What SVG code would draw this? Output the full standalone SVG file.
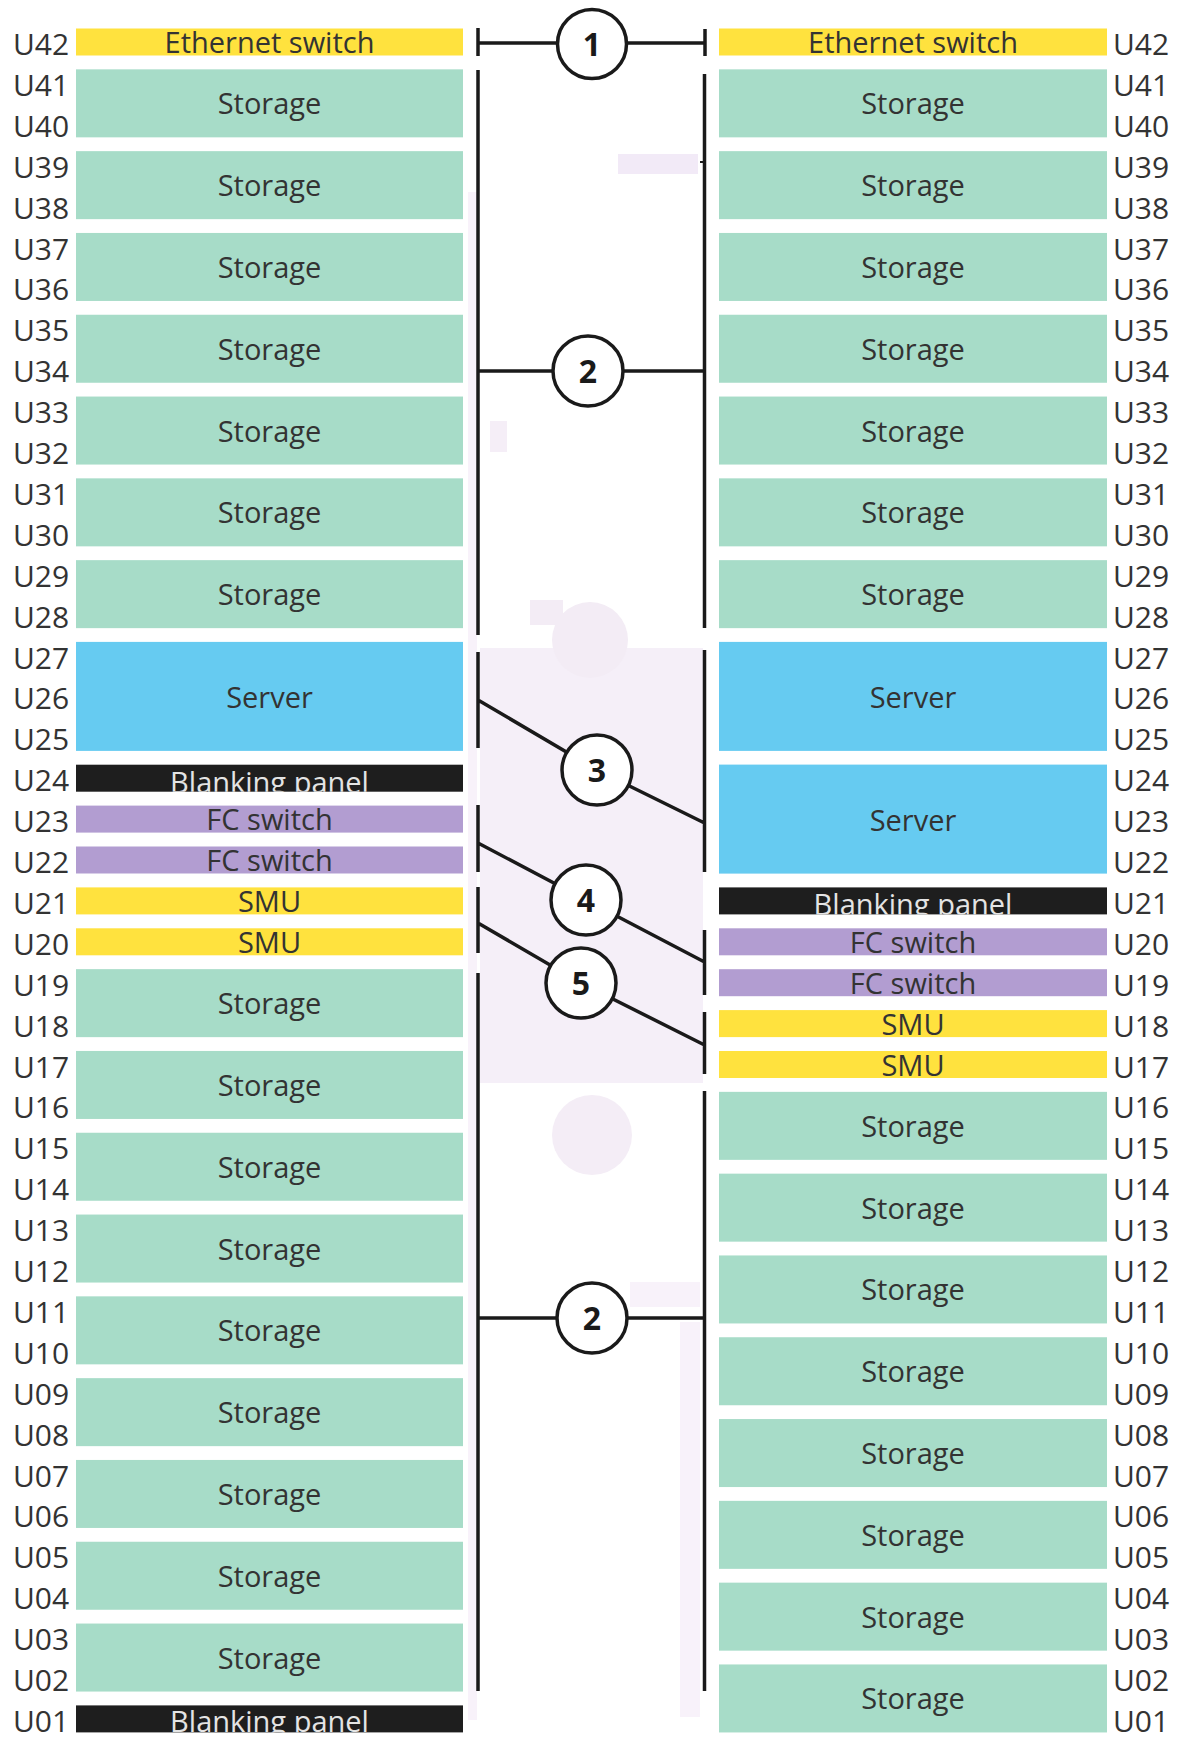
<svg xmlns="http://www.w3.org/2000/svg" width="1183" height="1739" viewBox="0 0 1183 1739">
<style>
.lbl{font-family:"Open Sans","Noto Sans",sans-serif;font-size:30px;fill:#333}
.dev{font-family:"Open Sans","Noto Sans",sans-serif;font-size:29px;fill:#333;text-anchor:middle}
.bt{fill:#e4e4e4}
.eth{fill:#FFE23E}.sto{fill:#A7DCC8}.srv{fill:#66CBF1}.fc{fill:#B29DD1}.blk{fill:#1E1E1E}
.wire{stroke:#1a1a1a;stroke-width:3.5;fill:none}
.badge circle{fill:#fff;stroke:#1a1a1a;stroke-width:3.5}
.badge text{font-family:"Open Sans","Noto Sans",sans-serif;font-weight:700;font-size:32px;text-anchor:middle;fill:#1a1a1a}
.wm{fill:#f5eff8}
</style>
<defs>
<clipPath id="cL24"><rect x="76" y="764.7" width="387" height="27"/></clipPath>
<clipPath id="cL01"><rect x="76" y="1705.4" width="387" height="27"/></clipPath>
<clipPath id="cR21"><rect x="719" y="887.4" width="388" height="27"/></clipPath>
</defs>
<rect width="1183" height="1739" fill="#fff"/>
<g id="watermark">
<rect class="wm" x="480" y="648" width="223" height="435"/>
<circle cx="590" cy="640" r="38" fill="#f3ecf5"/>
<rect x="530" y="600" width="33" height="25" fill="#f3ecf5"/>
<circle cx="592" cy="1135" r="40" fill="#f4edf6"/>
<rect x="468" y="192" width="9" height="1528" fill="#f8f2fa"/>
<rect x="680" y="1322" width="20" height="395" fill="#f8f2fa"/>
<rect x="630" y="1282" width="70" height="25" fill="#f8f2fa"/>
<rect x="490" y="421" width="17" height="31" fill="#f5eef7"/>
<rect x="618" y="154" width="80" height="20" fill="#f2eaf7"/>
</g>
<g id="rack-left">
<g id="L-U42"><rect class="eth" x="76" y="28.5" width="387" height="27"/><text class="dev" x="269.5" y="53">Ethernet switch</text></g>
<g id="L-U41"><rect class="sto" x="76" y="69.35" width="387" height="68"/><text class="dev" x="269.5" y="114.35">Storage</text></g>
<g id="L-U39"><rect class="sto" x="76" y="151.15" width="387" height="68"/><text class="dev" x="269.5" y="196.15">Storage</text></g>
<g id="L-U37"><rect class="sto" x="76" y="232.95" width="387" height="68"/><text class="dev" x="269.5" y="277.95">Storage</text></g>
<g id="L-U35"><rect class="sto" x="76" y="314.75" width="387" height="68"/><text class="dev" x="269.5" y="359.75">Storage</text></g>
<g id="L-U33"><rect class="sto" x="76" y="396.55" width="387" height="68"/><text class="dev" x="269.5" y="441.55">Storage</text></g>
<g id="L-U31"><rect class="sto" x="76" y="478.35" width="387" height="68"/><text class="dev" x="269.5" y="523.35">Storage</text></g>
<g id="L-U29"><rect class="sto" x="76" y="560.15" width="387" height="68"/><text class="dev" x="269.5" y="605.15">Storage</text></g>
<g id="L-U27"><rect class="srv" x="76" y="641.9" width="387" height="109"/><text class="dev" x="269.5" y="708.4">Server</text></g>
<g id="L-U24"><rect class="blk" x="76" y="764.7" width="387" height="27"/><text class="dev bt" x="269.5" y="792.5" clip-path="url(#cL24)">Blanking panel</text></g>
<g id="L-U23"><rect class="fc" x="76" y="805.6" width="387" height="27"/><text class="dev" x="269.5" y="830.1">FC switch</text></g>
<g id="L-U22"><rect class="fc" x="76" y="846.5" width="387" height="27"/><text class="dev" x="269.5" y="871">FC switch</text></g>
<g id="L-U21"><rect class="eth" x="76" y="887.4" width="387" height="27"/><text class="dev" x="269.5" y="911.9">SMU</text></g>
<g id="L-U20"><rect class="eth" x="76" y="928.3" width="387" height="27"/><text class="dev" x="269.5" y="952.8">SMU</text></g>
<g id="L-U19"><rect class="sto" x="76" y="969.15" width="387" height="68"/><text class="dev" x="269.5" y="1014.15">Storage</text></g>
<g id="L-U17"><rect class="sto" x="76" y="1050.95" width="387" height="68"/><text class="dev" x="269.5" y="1095.95">Storage</text></g>
<g id="L-U15"><rect class="sto" x="76" y="1132.75" width="387" height="68"/><text class="dev" x="269.5" y="1177.75">Storage</text></g>
<g id="L-U13"><rect class="sto" x="76" y="1214.55" width="387" height="68"/><text class="dev" x="269.5" y="1259.55">Storage</text></g>
<g id="L-U11"><rect class="sto" x="76" y="1296.35" width="387" height="68"/><text class="dev" x="269.5" y="1341.35">Storage</text></g>
<g id="L-U09"><rect class="sto" x="76" y="1378.15" width="387" height="68"/><text class="dev" x="269.5" y="1423.15">Storage</text></g>
<g id="L-U07"><rect class="sto" x="76" y="1459.95" width="387" height="68"/><text class="dev" x="269.5" y="1504.95">Storage</text></g>
<g id="L-U05"><rect class="sto" x="76" y="1541.75" width="387" height="68"/><text class="dev" x="269.5" y="1586.75">Storage</text></g>
<g id="L-U03"><rect class="sto" x="76" y="1623.55" width="387" height="68"/><text class="dev" x="269.5" y="1668.55">Storage</text></g>
<g id="L-U01"><rect class="blk" x="76" y="1705.4" width="387" height="27"/><text class="dev bt" x="269.5" y="1732" clip-path="url(#cL01)">Blanking panel</text></g>
</g>
<g id="rack-right">
<g id="R-U42"><rect class="eth" x="719" y="28.5" width="388" height="27"/><text class="dev" x="913" y="53">Ethernet switch</text></g>
<g id="R-U41"><rect class="sto" x="719" y="69.35" width="388" height="68"/><text class="dev" x="913" y="114.35">Storage</text></g>
<g id="R-U39"><rect class="sto" x="719" y="151.15" width="388" height="68"/><text class="dev" x="913" y="196.15">Storage</text></g>
<g id="R-U37"><rect class="sto" x="719" y="232.95" width="388" height="68"/><text class="dev" x="913" y="277.95">Storage</text></g>
<g id="R-U35"><rect class="sto" x="719" y="314.75" width="388" height="68"/><text class="dev" x="913" y="359.75">Storage</text></g>
<g id="R-U33"><rect class="sto" x="719" y="396.55" width="388" height="68"/><text class="dev" x="913" y="441.55">Storage</text></g>
<g id="R-U31"><rect class="sto" x="719" y="478.35" width="388" height="68"/><text class="dev" x="913" y="523.35">Storage</text></g>
<g id="R-U29"><rect class="sto" x="719" y="560.15" width="388" height="68"/><text class="dev" x="913" y="605.15">Storage</text></g>
<g id="R-U27"><rect class="srv" x="719" y="641.9" width="388" height="109"/><text class="dev" x="913" y="708.4">Server</text></g>
<g id="R-U24"><rect class="srv" x="719" y="764.6" width="388" height="109"/><text class="dev" x="913" y="831.1">Server</text></g>
<g id="R-U21"><rect class="blk" x="719" y="887.4" width="388" height="27"/><text class="dev bt" x="913" y="914.5" clip-path="url(#cR21)">Blanking panel</text></g>
<g id="R-U20"><rect class="fc" x="719" y="928.3" width="388" height="27"/><text class="dev" x="913" y="952.8">FC switch</text></g>
<g id="R-U19"><rect class="fc" x="719" y="969.2" width="388" height="27"/><text class="dev" x="913" y="993.7">FC switch</text></g>
<g id="R-U18"><rect class="eth" x="719" y="1010.1" width="388" height="27"/><text class="dev" x="913" y="1034.6">SMU</text></g>
<g id="R-U17"><rect class="eth" x="719" y="1051" width="388" height="27"/><text class="dev" x="913" y="1075.5">SMU</text></g>
<g id="R-U16"><rect class="sto" x="719" y="1091.85" width="388" height="68"/><text class="dev" x="913" y="1136.85">Storage</text></g>
<g id="R-U14"><rect class="sto" x="719" y="1173.65" width="388" height="68"/><text class="dev" x="913" y="1218.65">Storage</text></g>
<g id="R-U12"><rect class="sto" x="719" y="1255.45" width="388" height="68"/><text class="dev" x="913" y="1300.45">Storage</text></g>
<g id="R-U10"><rect class="sto" x="719" y="1337.25" width="388" height="68"/><text class="dev" x="913" y="1382.25">Storage</text></g>
<g id="R-U08"><rect class="sto" x="719" y="1419.05" width="388" height="68"/><text class="dev" x="913" y="1464.05">Storage</text></g>
<g id="R-U06"><rect class="sto" x="719" y="1500.85" width="388" height="68"/><text class="dev" x="913" y="1545.85">Storage</text></g>
<g id="R-U04"><rect class="sto" x="719" y="1582.65" width="388" height="68"/><text class="dev" x="913" y="1627.65">Storage</text></g>
<g id="R-U02"><rect class="sto" x="719" y="1664.45" width="388" height="68"/><text class="dev" x="913" y="1709.45">Storage</text></g>
</g>
<g id="labels-left" class="lbl">
<text x="13" y="55">U42</text><text x="13" y="95.9">U41</text><text x="13" y="136.8">U40</text><text x="13" y="177.7">U39</text><text x="13" y="218.6">U38</text><text x="13" y="259.5">U37</text><text x="13" y="300.4">U36</text><text x="13" y="341.3">U35</text><text x="13" y="382.2">U34</text><text x="13" y="423.1">U33</text><text x="13" y="464">U32</text><text x="13" y="504.9">U31</text><text x="13" y="545.8">U30</text><text x="13" y="586.7">U29</text><text x="13" y="627.6">U28</text><text x="13" y="668.5">U27</text><text x="13" y="709.4">U26</text><text x="13" y="750.3">U25</text><text x="13" y="791.2">U24</text><text x="13" y="832.1">U23</text><text x="13" y="873">U22</text><text x="13" y="913.9">U21</text><text x="13" y="954.8">U20</text><text x="13" y="995.7">U19</text><text x="13" y="1036.6">U18</text><text x="13" y="1077.5">U17</text><text x="13" y="1118.4">U16</text><text x="13" y="1159.3">U15</text><text x="13" y="1200.2">U14</text><text x="13" y="1241.1">U13</text><text x="13" y="1282">U12</text><text x="13" y="1322.9">U11</text><text x="13" y="1363.8">U10</text><text x="13" y="1404.7">U09</text><text x="13" y="1445.6">U08</text><text x="13" y="1486.5">U07</text><text x="13" y="1527.4">U06</text><text x="13" y="1568.3">U05</text><text x="13" y="1609.2">U04</text><text x="13" y="1650.1">U03</text><text x="13" y="1691">U02</text><text x="13" y="1731.9">U01</text>
</g>
<g id="labels-right" class="lbl">
<text x="1113" y="55">U42</text><text x="1113" y="95.9">U41</text><text x="1113" y="136.8">U40</text><text x="1113" y="177.7">U39</text><text x="1113" y="218.6">U38</text><text x="1113" y="259.5">U37</text><text x="1113" y="300.4">U36</text><text x="1113" y="341.3">U35</text><text x="1113" y="382.2">U34</text><text x="1113" y="423.1">U33</text><text x="1113" y="464">U32</text><text x="1113" y="504.9">U31</text><text x="1113" y="545.8">U30</text><text x="1113" y="586.7">U29</text><text x="1113" y="627.6">U28</text><text x="1113" y="668.5">U27</text><text x="1113" y="709.4">U26</text><text x="1113" y="750.3">U25</text><text x="1113" y="791.2">U24</text><text x="1113" y="832.1">U23</text><text x="1113" y="873">U22</text><text x="1113" y="913.9">U21</text><text x="1113" y="954.8">U20</text><text x="1113" y="995.7">U19</text><text x="1113" y="1036.6">U18</text><text x="1113" y="1077.5">U17</text><text x="1113" y="1118.4">U16</text><text x="1113" y="1159.3">U15</text><text x="1113" y="1200.2">U14</text><text x="1113" y="1241.1">U13</text><text x="1113" y="1282">U12</text><text x="1113" y="1322.9">U11</text><text x="1113" y="1363.8">U10</text><text x="1113" y="1404.7">U09</text><text x="1113" y="1445.6">U08</text><text x="1113" y="1486.5">U07</text><text x="1113" y="1527.4">U06</text><text x="1113" y="1568.3">U05</text><text x="1113" y="1609.2">U04</text><text x="1113" y="1650.1">U03</text><text x="1113" y="1691">U02</text><text x="1113" y="1731.9">U01</text>
</g>
<g id="connectors" class="wire">
<path d="M478 28V56M705 29V56M478 43H705"/>
<path d="M478 70V635M704.5 74V628M478 371H704.5"/>
<path d="M700 162H704.5" stroke-width="2"/>
<path d="M478 652V748M704.5 650V872M478 700L597 770L704.5 823"/>
<path d="M478 805V872M704.5 930V995M478 843L586 900L704.5 962"/>
<path d="M478 887V953M704.5 1012V1074M478 923L581 983L704.5 1045"/>
<path d="M478 973V1691M704.5 1091V1691M478 1318H704.5"/>
</g>
<g id="badge-1" class="badge"><circle cx="592" cy="44" r="34.5"/><text x="592" y="55.5">1</text></g>
<g id="badge-2a" class="badge"><circle cx="588" cy="371" r="35"/><text x="588" y="382.5">2</text></g>
<g id="badge-3" class="badge"><circle cx="597" cy="770" r="35"/><text x="597" y="781.5">3</text></g>
<g id="badge-4" class="badge"><circle cx="586" cy="900" r="35"/><text x="586" y="911.5">4</text></g>
<g id="badge-5" class="badge"><circle cx="581" cy="983" r="35"/><text x="581" y="994.5">5</text></g>
<g id="badge-2b" class="badge"><circle cx="592" cy="1318" r="35"/><text x="592" y="1329.5">2</text></g>
</svg>
